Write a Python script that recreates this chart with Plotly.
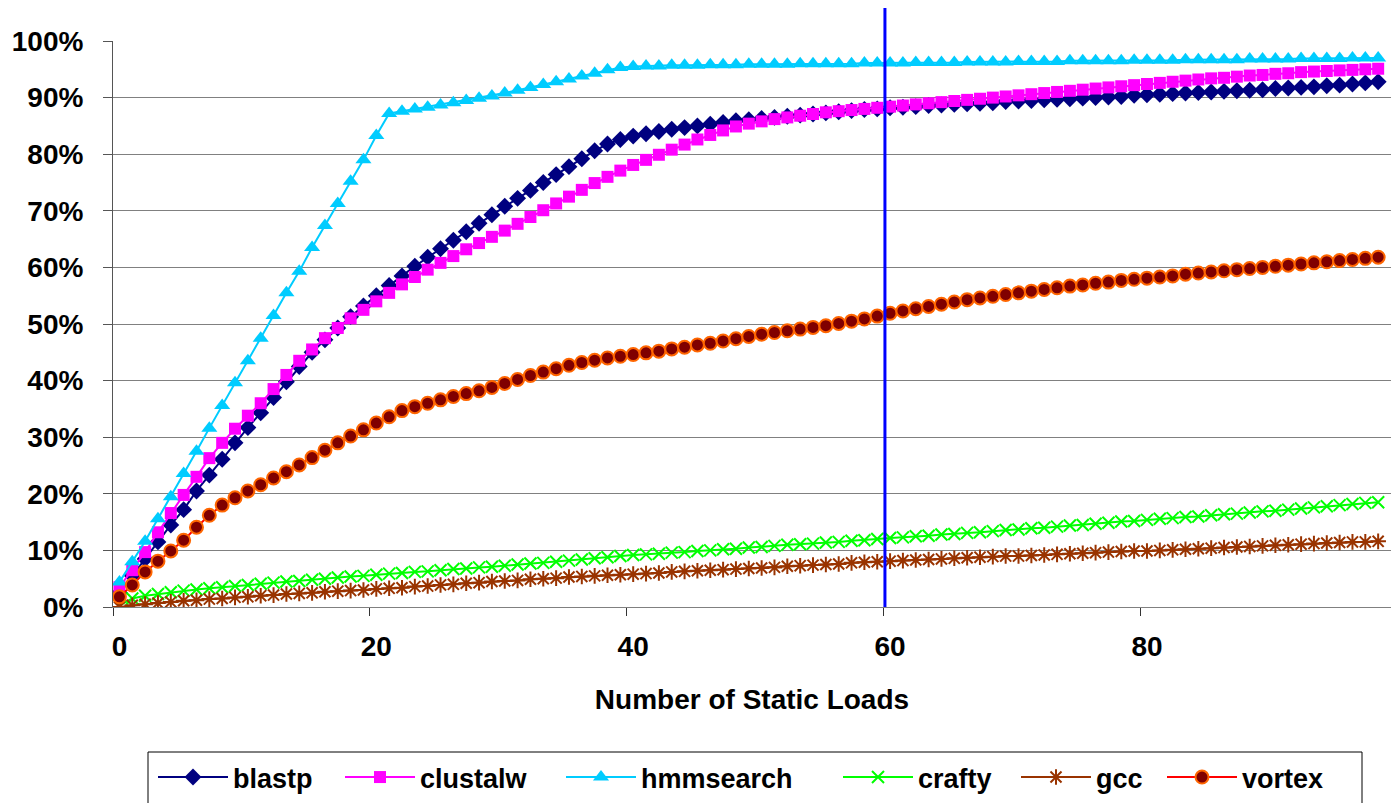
import plotly.graph_objects as go

loads = list(range(99))
x_ticks = [0, 20, 40, 60, 80]
y_ticks = [0, 10, 20, 30, 40, 50, 60, 70, 80, 90, 100]
marker_load = 59.6

blastp = [2.5, 5.5, 8.5, 11.5, 14.5, 17.2, 20.5, 23.3, 26.1, 29.0,
          31.7, 34.3, 37.0, 39.8, 42.5, 45.0, 47.2, 49.3, 51.3, 53.2,
          55.0, 56.8, 58.5, 60.2, 61.8, 63.3, 64.8, 66.3, 67.8, 69.3,
          70.8, 72.2, 73.6, 75.0, 76.4, 77.8, 79.2, 80.6, 81.8, 82.6,
          83.2, 83.6, 84.0, 84.4, 84.7, 85.0, 85.3, 85.6, 85.9, 86.1,
          86.3, 86.5, 86.7, 86.9, 87.1, 87.3, 87.5, 87.7, 87.9, 88.0,
          88.2, 88.3, 88.4, 88.6, 88.7, 88.8, 88.9, 89.0, 89.1, 89.3,
          89.4, 89.5, 89.6, 89.7, 89.8, 89.9, 90.0, 90.1, 90.2, 90.4,
          90.5, 90.6, 90.7, 90.8, 90.9, 91.0, 91.1, 91.2, 91.3, 91.4,
          91.6, 91.7, 91.8, 91.9, 92.1, 92.2, 92.4, 92.6, 92.8]

clustalw = [3.5, 6.5, 9.7, 13.2, 16.6, 19.8, 23.0, 26.3, 29.0, 31.5,
            33.8, 36.0, 38.5, 41.0, 43.5, 45.5, 47.5, 49.3, 51.0, 52.5,
            54.0, 55.5, 57.0, 58.3, 59.6, 60.8, 62.0, 63.2, 64.3, 65.4,
            66.5, 67.7, 68.9, 70.1, 71.3, 72.5, 73.7, 74.9, 76.0, 77.1,
            78.1, 79.0, 79.9, 80.8, 81.7, 82.6, 83.4, 84.2, 84.9, 85.4,
            85.8, 86.2, 86.5, 86.8, 87.1, 87.4, 87.6, 87.8, 88.0, 88.2,
            88.4, 88.6, 88.8, 89.0, 89.2, 89.4, 89.6, 89.8, 90.0, 90.2,
            90.4, 90.6, 90.8, 91.0, 91.2, 91.4, 91.6, 91.8, 92.0, 92.2,
            92.4, 92.6, 92.8, 93.0, 93.2, 93.4, 93.5, 93.7, 93.9, 94.0,
            94.2, 94.3, 94.5, 94.6, 94.7, 94.8, 94.9, 95.0, 95.1]

hmmsearch = [4.4, 8.0, 11.6, 15.6, 19.5, 23.6, 27.5, 31.6, 35.6, 39.6,
             43.5, 47.5, 51.5, 55.5, 59.3, 63.5, 67.4, 71.3, 75.2, 79.0,
             83.3, 87.2, 87.6, 88.0, 88.3, 88.7, 89.1, 89.5, 89.9, 90.3,
             90.8, 91.3, 91.8, 92.3, 92.8, 93.3, 93.8, 94.3, 94.9, 95.3,
             95.5, 95.6, 95.6, 95.7, 95.7, 95.7, 95.8, 95.8, 95.8, 95.9,
             95.9, 95.9, 95.9, 96.0, 96.0, 96.0, 96.0, 96.0, 96.1, 96.1,
             96.1, 96.1, 96.2, 96.2, 96.2, 96.2, 96.3, 96.3, 96.3, 96.3,
             96.4, 96.4, 96.4, 96.4, 96.5, 96.5, 96.5, 96.5, 96.5, 96.6,
             96.6, 96.6, 96.6, 96.7, 96.7, 96.7, 96.7, 96.7, 96.8, 96.8,
             96.8, 96.8, 96.9, 96.9, 96.9, 96.9, 97.0, 97.0, 97.0]

crafty = [0.3, 1.5, 2.0, 2.3, 2.6, 2.9, 3.1, 3.3, 3.5, 3.7,
          3.9, 4.1, 4.3, 4.5, 4.6, 4.8, 5.0, 5.2, 5.4, 5.5,
          5.7, 5.9, 6.0, 6.2, 6.3, 6.5, 6.7, 6.8, 7.0, 7.1,
          7.3, 7.5, 7.7, 7.8, 8.0, 8.2, 8.4, 8.6, 8.8, 9.0,
          9.2, 9.3, 9.4, 9.6, 9.7, 9.9, 10.0, 10.2, 10.3, 10.5,
          10.6, 10.8, 11.0, 11.1, 11.2, 11.4, 11.5, 11.7, 11.8, 12.0,
          12.2, 12.3, 12.5, 12.6, 12.8, 12.9, 13.1, 13.2, 13.4, 13.6,
          13.7, 13.9, 14.0, 14.2, 14.4, 14.5, 14.7, 14.9, 15.1, 15.2,
          15.4, 15.6, 15.7, 15.9, 16.0, 16.2, 16.4, 16.5, 16.7, 16.9,
          17.0, 17.2, 17.4, 17.6, 17.8, 18.0, 18.2, 18.4, 18.5]

gcc = [0.0, 0.3, 0.5, 0.7, 0.9, 1.1, 1.2, 1.4, 1.5, 1.7,
       1.8, 2.0, 2.1, 2.3, 2.4, 2.5, 2.7, 2.8, 2.9, 3.0,
       3.2, 3.3, 3.4, 3.6, 3.7, 3.9, 4.0, 4.2, 4.3, 4.5,
       4.6, 4.7, 4.9, 5.0, 5.1, 5.3, 5.4, 5.5, 5.6, 5.7,
       5.8, 5.9, 6.0, 6.2, 6.3, 6.4, 6.5, 6.6, 6.7, 6.8,
       6.9, 7.0, 7.2, 7.3, 7.4, 7.5, 7.6, 7.8, 7.9, 8.0,
       8.1, 8.2, 8.3, 8.4, 8.5, 8.6, 8.7, 8.8, 8.9, 9.0,
       9.0, 9.1, 9.2, 9.3, 9.4, 9.5, 9.6, 9.7, 9.8, 9.9,
       9.9, 10.0, 10.1, 10.2, 10.3, 10.4, 10.5, 10.6, 10.7, 10.8,
       10.9, 11.0, 11.1, 11.2, 11.3, 11.4, 11.5, 11.5, 11.6]

vortex = [1.8, 3.9, 6.2, 8.1, 9.9, 11.8, 14.1, 16.2, 18.0, 19.3,
          20.5, 21.6, 22.8, 23.9, 25.1, 26.4, 27.7, 29.0, 30.2, 31.3,
          32.5, 33.6, 34.7, 35.4, 36.0, 36.6, 37.2, 37.7, 38.2, 38.8,
          39.5, 40.2, 40.9, 41.5, 42.1, 42.7, 43.2, 43.6, 44.0, 44.3,
          44.6, 44.9, 45.2, 45.6, 45.9, 46.3, 46.6, 47.0, 47.4, 47.8,
          48.2, 48.5, 48.8, 49.1, 49.4, 49.7, 50.1, 50.5, 50.9, 51.4,
          51.9, 52.3, 52.7, 53.1, 53.5, 53.9, 54.3, 54.6, 54.9, 55.2,
          55.5, 55.8, 56.1, 56.4, 56.7, 56.9, 57.2, 57.4, 57.7, 57.9,
          58.1, 58.3, 58.5, 58.8, 59.0, 59.2, 59.4, 59.6, 59.8, 60.0,
          60.2, 60.4, 60.6, 60.8, 61.0, 61.2, 61.4, 61.6, 61.8]

FONT = "Liberation Sans, Arial, sans-serif"
PLOT_L, PLOT_W, PLOT_T, PLOT_H = 113, 1278, 41, 566

series = [
    ("blastp", blastp, "#000080", dict(symbol="diamond", size=13, color="#000080")),
    ("clustalw", clustalw, "#FF00FF", dict(symbol="square", size=12, color="#FF00FF")),
    ("hmmsearch", hmmsearch, "#00CCFF", dict(symbol="triangle-up", size=14, color="#00CCFF")),
    ("crafty", crafty, "#00FF00", dict(symbol="x-thin-open", size=12, color="#00FF00",
                                        line=dict(color="#00FF00", width=2))),
    ("gcc", gcc, "#993300", dict(symbol="asterisk-open", size=13, color="#993300",
                                  line=dict(color="#993300", width=2))),
    ("vortex", vortex, "#FF0000", dict(symbol="circle", size=13, color="#800000",
                                        line=dict(color="#FF6600", width=2))),
]
# left pixel of each legend entry
legend_px = [153, 340, 561, 838, 1016, 1162]


def px_to_paper_x(px):
    return (px - PLOT_L) / PLOT_W


def px_to_paper_y(py):
    return (PLOT_T + PLOT_H - py) / PLOT_H


fig = go.Figure()
legend_layouts = {}
for i, (name, vals, lc, mk) in enumerate(series):
    lname = "legend" if i == 0 else f"legend{i + 1}"
    fig.add_trace(go.Scatter(x=loads, y=vals, name=name, mode="lines+markers",
                             line=dict(color=lc, width=2), marker=mk, legend=lname))
    legend_layouts[lname] = dict(
        orientation="h", x=px_to_paper_x(legend_px[i]), xanchor="left",
        y=px_to_paper_y(753), yanchor="top", borderwidth=0, bgcolor="rgba(0,0,0,0)",
        font=dict(family=FONT, size=27, color="black", weight="bold"),
        itemwidth=70)

x_lo, x_hi = -0.5, 99.0
fig.add_shape(type="line", xref="paper", yref="paper",
              x0=(marker_load - x_lo) / (x_hi - x_lo), x1=(marker_load - x_lo) / (x_hi - x_lo),
              y0=0, y1=px_to_paper_y(8), line=dict(color="#0000FF", width=3))
# legend frame
fig.add_shape(type="rect", xref="paper", yref="paper",
              x0=px_to_paper_x(148), x1=px_to_paper_x(1362),
              y0=px_to_paper_y(752), y1=px_to_paper_y(830),
              line=dict(color="black", width=1), fillcolor="rgba(0,0,0,0)")

fig.update_layout(
    width=1391, height=803,
    margin=dict(l=PLOT_L, r=0, t=PLOT_T, b=803 - PLOT_T - PLOT_H),
    paper_bgcolor="white", plot_bgcolor="white",
    font=dict(family=FONT, size=28, color="black", weight="bold"),
    showlegend=True,
    xaxis=dict(range=[x_lo, x_hi], tickmode="array", tickvals=x_ticks,
               ticktext=[str(v) for v in x_ticks], ticks="", showgrid=False,
               zeroline=False, showline=True, linecolor="#808080", linewidth=1,
               tickfont=dict(family=FONT, size=28, color="black", weight="bold"),
               ticklabelstandoff=14,
               minor=dict(tickmode="linear", tick0=-0.5, dtick=20, ticks="outside",
                          ticklen=8, tickcolor="#333333", showgrid=False),
               title=dict(text="Number of Static Loads", standoff=28,
                          font=dict(family=FONT, size=28, color="black", weight="bold"))),
    yaxis=dict(range=[0, 100], tickmode="array", tickvals=y_ticks,
               ticktext=[f"{v}%" for v in y_ticks], ticks="outside", ticklen=9,
               tickcolor="#555555", showgrid=True, gridcolor="#808080", gridwidth=1,
               zeroline=False, showline=True, linecolor="#555555", linewidth=1,
               ticklabelstandoff=14,
               tickfont=dict(family=FONT, size=28, color="black", weight="bold")),
    **legend_layouts,
)

fig.write_html("out.html")
